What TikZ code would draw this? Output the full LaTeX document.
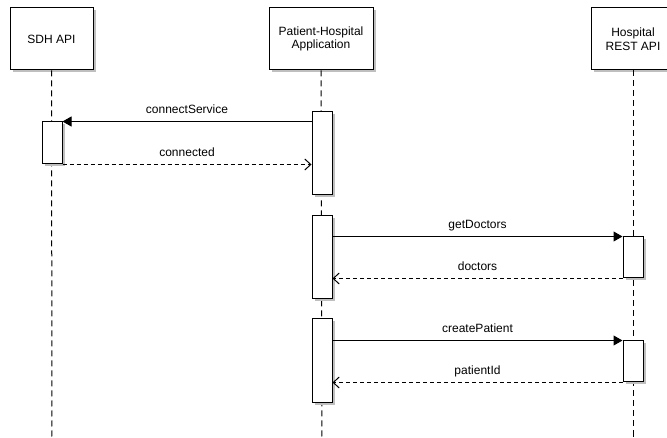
\documentclass[tikz,border=0pt]{standalone}
\usepackage{fontspec}
\setmainfont{Liberation Sans}
\usetikzlibrary{arrows.meta}
\usetikzlibrary{shadows}

\begin{document}
\begin{tikzpicture}[x=1pt,y=-1pt,line width=1pt,
        every node/.style={font=\fontsize{12}{13.5}\selectfont},
        box/.style={draw, fill=white, inner sep=0pt,
            drop shadow={shadow xshift=2.5pt, shadow yshift=-2.5pt, fill=black!25, opacity=1}},
        head/.style={box, minimum width=83pt, minimum height=62pt, align=center},
        act/.style={box, minimum width=20pt},
        lifeline/.style={dash pattern=on 6pt off 4pt},
        call/.style={-{Triangle[length=9pt,width=10pt]}},
        reply/.style={dash pattern=on 4pt off 3pt, -{Straight Barb[length=6pt,width=11pt]}},
        msg/.style={midway, yshift=11pt, inner sep=0pt, text height=8.5pt, text depth=2.5pt}]
    \fill[white] (0,0) rectangle (667,438);
    \useasboundingbox (0,0) rectangle (667,438);

    \node[head] (S) at (51.5,39) {SDH API};
    \node[head, minimum width=104pt] (P) at (321,39) {Patient-Hospital\\Application};
    \node[head] (H) at (633,39) {Hospital\\REST API};

    \coordinate (Send) at (52,438);
    \coordinate (Pend) at (322,438);
    \coordinate (Hend) at (633,438);
    \draw[lifeline] (S.south) -- (Send);
    \draw[lifeline] (P.south) -- (Pend);
    \draw[lifeline] (H.south) -- (Hend);

    \node[act, minimum height=83pt] (P1) at (322,153.5) {};
    \node[act, minimum height=42pt] (S1) at (52,143) {};
    \node[act, minimum height=83pt] (P2) at (322,257.5) {};
    \node[act, minimum height=41pt] (H1) at (633,257.5) {};
    \node[act, minimum height=83pt] (P3) at (322,360.5) {};
    \node[act, minimum height=41pt] (H2) at (633,361.5) {};

    \draw[call] (P1.west |- S1.north) -- node[msg] {connectService} (S1.north east);
    \draw[reply] (S1.south east) -- node[msg] {connected} (P1.west |- S1.south);
    \draw[call] (P2.east |- H1.north) -- node[msg] {getDoctors} (H1.north west);
    \draw[reply] (H1.south west) -- node[msg] {doctors} (P2.east |- H1.south);
    \draw[call] (P3.east |- H2.north) -- node[msg] {createPatient} (H2.north west);
    \draw[reply] (H2.south west) -- node[msg] {patientId} (P3.east |- H2.south);
\end{tikzpicture}
\end{document}
